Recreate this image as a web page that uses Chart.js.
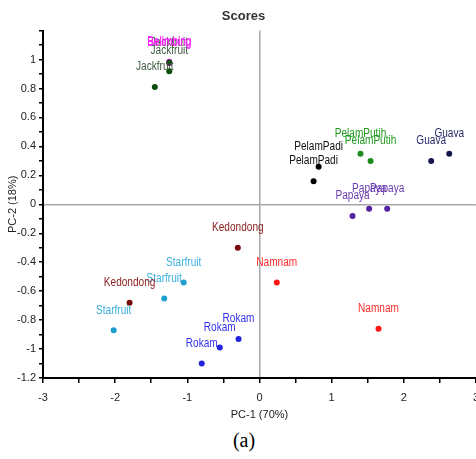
<!DOCTYPE html>
<html>
<head>
<meta charset="utf-8">
<script src="https://cdn.jsdelivr.net/npm/chart.js@4.4.0/dist/chart.umd.min.js"></script>
<style>
  html, body { margin: 0; padding: 0; background: #fff; overflow: hidden; width: 476px; height: 459px; }
  #wrap { position: absolute; left: 0; top: 0; width: 487px; height: 422px; }
  #caption { position: absolute; left: 0; top: 429px; width: 488px; text-align: center;
             font-family: 'Liberation Serif', 'DejaVu Serif', serif; font-size: 20px; color: #000; }
</style>
</head>
<body>
<div id="wrap"><canvas id="scores-chart"></canvas></div>
<div id="caption">(a)</div>
<script>
// Sample groups and their PCA scores
const fruitNames = ['Belimbing', 'Jackfruit', 'PelamPadi', 'PelamPutih', 'Guava', 'Papaya',
                    'Kedondong', 'Starfruit', 'Namnam', 'Rokam'];
const pc1Scores = [
    [-1.25, -1.25],
    [-1.45, -1.25, -1.25],
    [0.82, 0.75],
    [1.40, 1.54],
    [2.38, 2.63],
    [1.29, 1.52, 1.77],
    [-0.30, -1.80],
    [-1.05, -1.32, -2.02],
    [0.24, 1.65],
    [-0.29, -0.55, -0.80]
];
const pc2Scores = [
    [0.985, 0.975],
    [0.81, 0.92, 0.98],
    [0.26, 0.16],
    [0.35, 0.30],
    [0.30, 0.35],
    [-0.08, -0.03, -0.03],
    [-0.30, -0.68],
    [-0.54, -0.65, -0.87],
    [-0.54, -0.86],
    [-0.93, -0.99, -1.10]
];
const pointColors = ['#ff00ff', '#0b4d0b', '#000000', '#1c8c1c', '#16164f', '#5522a0',
                     '#7a0c0c', '#1f9fd0', '#ff1515', '#2222dd'];
const labelColors = ['#ff22ff', '#3c5a3c', '#111111', '#1f9a1f', '#2a2a6a', '#6a3cb0',
                     '#8a2222', '#3aaedc', '#ff2a2a', '#3333ee'];

const fontFamily = "'Liberation Sans Narrow', 'Liberation Sans', Arial, sans-serif";

// Draw each point's group name just above it (squeezed to look like a narrow face)
const pointLabels = {
    id: 'pointLabels',
    afterDatasetsDraw(chart) {
        const ctx = chart.ctx;
        const squeeze = 0.84;
        ctx.save();
        ctx.font = '12px ' + fontFamily;
        ctx.textAlign = 'center';
        ctx.textBaseline = 'middle';
        chart.data.datasets.forEach((ds, i) => {
            const meta = chart.getDatasetMeta(i);
            ctx.fillStyle = labelColors[i];
            meta.data.forEach(pt => {
                ctx.save();
                ctx.translate(pt.x, pt.y - 20);
                ctx.scale(squeeze, 1);
                ctx.fillText(ds.label, 0, 0);
                ctx.restore();
            });
        });
        ctx.restore();
    }
};

const datasets = fruitNames.map((name, i) => ({
    label: name,
    data: pc1Scores[i].map((x, j) => ({ x: x, y: pc2Scores[i][j] })),
    backgroundColor: pointColors[i],
    borderColor: pointColors[i],
    pointRadius: 3,
    pointHoverRadius: 3,
    borderWidth: 0
}));

// reverse so the magenta group sits under the jackfruit points
datasets.reverse();
labelColors.reverse();

const zeroLine = (c) => (c.tick && Math.abs(c.tick.value) < 1e-9) ? '#a8a8a8' : 'rgba(0,0,0,0)';

const ctx = document.getElementById('scores-chart').getContext('2d');
new Chart(ctx, {
    type: 'scatter',
    data: { datasets: datasets },
    options: {
        responsive: true,
        maintainAspectRatio: false,
        animation: false,
        layout: { padding: { left: 0, right: 0, top: 0, bottom: 0 } },
        plugins: {
            legend: { display: false },
            tooltip: { enabled: false },
            title: {
                display: true,
                text: 'Scores',
                color: '#333',
                font: { family: fontFamily, size: 13, weight: 'bold' },
                padding: { top: 9, bottom: 6 }
            }
        },
        scales: {
            x: {
                type: 'linear',
                min: -3,
                max: 3,
                afterFit(scale) { scale.height = 44; },
                grid: { color: zeroLine, tickColor: '#000', tickLength: 5, lineWidth: 1.5 },
                border: { display: true, color: '#000', width: 2 },
                ticks: {
                    stepSize: 0.5,
                    autoSkip: false,
                    maxRotation: 0,
                    padding: 8,
                    color: '#222',
                    font: { family: fontFamily, size: 11 },
                    callback: (v) => (Math.abs(v - Math.round(v)) < 1e-9) ? String(Math.round(v)) : ''
                },
                title: {
                    display: true,
                    text: 'PC-1 (70%)',
                    color: '#222',
                    font: { family: fontFamily, size: 11 },
                    padding: { top: 2, bottom: 0 }
                }
            },
            y: {
                type: 'linear',
                min: -1.2,
                max: 1.2,
                afterFit(scale) { scale.width = 43; },
                grid: { color: zeroLine, tickColor: '#000', tickLength: 4, lineWidth: 1.5 },
                border: { display: true, color: '#000', width: 2 },
                ticks: {
                    stepSize: 0.1,
                    autoSkip: false,
                    padding: 3,
                    color: '#222',
                    font: { family: fontFamily, size: 11 },
                    callback: (v) => {
                        const t = Math.round(v * 10);
                        if (t % 2 !== 0 || t === 12) return '';
                        return String(t / 10);
                    }
                },
                title: {
                    display: true,
                    text: 'PC-2 (18%)',
                    color: '#222',
                    font: { family: fontFamily, size: 11 },
                    padding: { top: 6, bottom: 0 }
                }
            }
        }
    },
    plugins: [pointLabels]
});
</script>
</body>
</html>
